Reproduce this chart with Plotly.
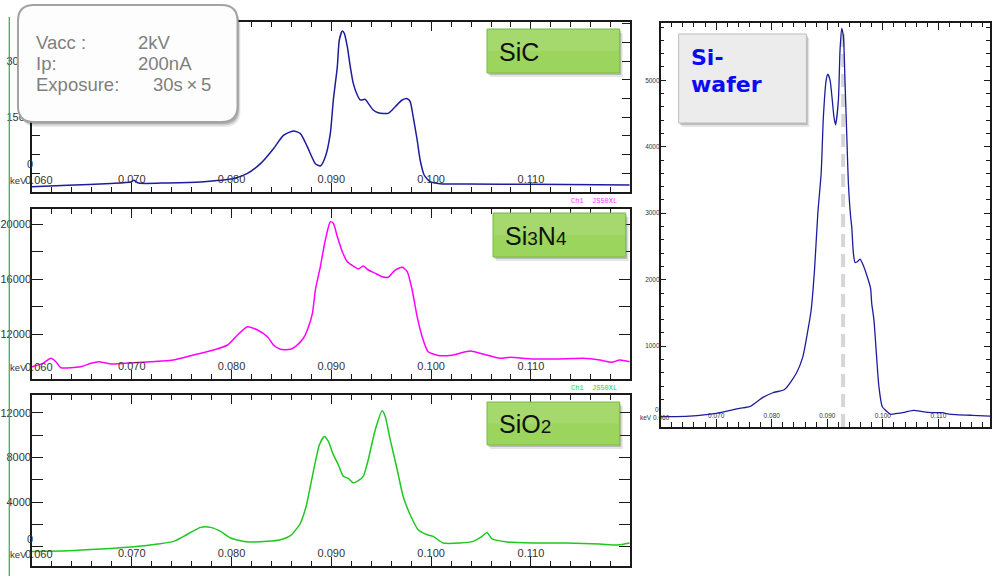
import plotly.graph_objects as go

W, H = 992, 576

# ---------------- data ----------------
sic_kev = [0.0600, 0.0636, 0.0679, 0.0699, 0.0702, 0.0707, 0.0736, 0.0769, 0.0802, 0.0816,
           0.0829, 0.0842, 0.0852, 0.0862, 0.0869, 0.0876, 0.0884, 0.0889, 0.0894, 0.0899,
           0.0902, 0.0906, 0.0908, 0.0911, 0.0913, 0.0916, 0.0919, 0.0922, 0.0926, 0.0929,
           0.0934, 0.0937, 0.0942, 0.0947, 0.0957, 0.0964, 0.0971, 0.0976, 0.0979, 0.0982,
           0.0986, 0.0989, 0.0993, 0.0999, 0.1009, 0.1036, 0.1102, 0.1199]
sic_counts = [-367, -330, -280, -240, -195, -270, -265, -240, -150, -10,
              250, 650, 1010, 1125, 1055, 700, 250, 188, 437, 1063,
              1955, 2847, 3563, 3804, 3742, 3384, 2847, 2401, 2088, 1955,
              1973, 1866, 1687, 1616, 1598, 1776, 1955, 1991, 1911, 1508,
              884, 348, -54, -233, -287, -295, -303, -322]

si3n4_kev = [0.0600, 0.0611, 0.0619, 0.0624, 0.0629, 0.0649, 0.0659, 0.0667, 0.0679, 0.0702,
             0.0719, 0.0742, 0.0762, 0.0782, 0.0796, 0.0806, 0.0816, 0.0826, 0.0836, 0.0842,
             0.0849, 0.0859, 0.0864, 0.0872, 0.0876, 0.0881, 0.0884, 0.0889, 0.0892, 0.0894,
             0.0899, 0.0902, 0.0906, 0.0911, 0.0916, 0.0922, 0.0927, 0.0932, 0.0937, 0.0944,
             0.0951, 0.0957, 0.0964, 0.0971, 0.0976, 0.0981, 0.0986, 0.0991, 0.0997, 0.1009,
             0.1022, 0.1039, 0.1052, 0.1069, 0.1079, 0.1102, 0.1136, 0.1152, 0.1169, 0.1181,
             0.1189, 0.1199]
si3n4_counts = [9644, 9890, 10255, 10007, 9571, 9644, 9890, 10007, 9840, 9935,
                10007, 10130, 10495, 10858, 11222, 11950, 12553, 12313, 11826, 11222,
                10910, 10910, 11100, 11710, 12313, 13500, 15220, 16917, 18130, 18860,
                20190, 20070, 19100, 18007, 17280, 16967, 16750, 16967, 16676, 16436,
                16189, 16145, 16676, 16873, 16553, 15220, 13280, 11825, 10735, 10445,
                10495, 10786, 10567, 10255, 10327, 10204, 10225, 10255, 10130, 9963,
                10130, 10007]

sio2_kev = [0.0600, 0.0636, 0.0669, 0.0702, 0.0726, 0.0742, 0.0752, 0.0761, 0.0769, 0.0779,
            0.0789, 0.0799, 0.0809, 0.0819, 0.0836, 0.0849, 0.0859, 0.0867, 0.0869, 0.0875,
            0.0881, 0.0888, 0.0893, 0.0897, 0.0902, 0.0907, 0.0912, 0.0917, 0.0922, 0.0927,
            0.0932, 0.0937, 0.0944, 0.0951, 0.0954, 0.0959, 0.0966, 0.0972, 0.0979, 0.0987,
            0.0996, 0.1002, 0.1012, 0.1029, 0.1042, 0.1051, 0.1056, 0.1061, 0.1076, 0.1102,
            0.1136, 0.1169, 0.1187, 0.1199]
sio2_counts = [-420, -360, -210, 0, 240, 480, 920, 1370, 1730, 1730,
               1370, 780, 540, 420, 480, 630, 985, 1820, 2100, 3700,
               6300, 9100, 9870, 9430, 8240, 7340, 6300, 6110, 5700, 5910,
               6300, 7790, 10470, 12170, 11660, 9580, 6890, 4500, 2860, 1520,
               1070, 920, 330, 330, 480, 920, 1280, 690, 420, 330,
               330, 240, 150, 330]

wafer_kev = [0.0600, 0.0652, 0.0700, 0.0742, 0.0760, 0.0784, 0.0802, 0.0823, 0.0844, 0.0856,
             0.0864, 0.0871, 0.0877, 0.0883, 0.0889, 0.0893, 0.0898, 0.0901, 0.0905, 0.0909,
             0.0912, 0.0915, 0.0920, 0.0923, 0.0926, 0.0929, 0.0932, 0.0935, 0.0938, 0.0942,
             0.0944, 0.0947, 0.0950, 0.0954, 0.0959, 0.0963, 0.0972, 0.0978, 0.0980, 0.0984,
             0.0988, 0.0993, 0.0999, 0.1008, 0.1014, 0.1026, 0.1041, 0.1056, 0.1071, 0.1089,
             0.1107, 0.1119, 0.1161, 0.1193]
wafer_counts = [-60, -50, -10, 65, 90, 230, 300, 350, 590, 840,
                1190, 1545, 2145, 3000, 3600, 4450, 5000, 5090, 5000, 4700,
                4450, 4330, 4700, 5460, 5780, 5660, 4960, 4200, 3450, 2950,
                2800, 2400, 2260, 2270, 2310, 2250, 2045, 1870, 1645, 1395,
                940, 390, 90, 15, -25, -10, 10, 35, 15, 0,
                0, -20, -40, -50]

# tick labels (the edge labels 0.060 and the y "0" are placed as text next to "keV")
left_xticks = [0.070, 0.080, 0.090, 0.100, 0.110]
wafer_xticks = [0.070, 0.080, 0.090, 0.100, 0.110]
edge_xtick_label = "0.060"
sic_yticks = [1500, 3000]
si3n4_yticks = [12000, 16000, 20000]
sio2_yticks = [4000, 8000, 12000]
wafer_yticks = [1000, 2000, 3000, 4000, 5000]
zero_label = "0"
wafer_marker_kev = 0.09285

info_labels = ["Vacc :", "Ip:", "Exposure:"]
info_values = ["2kV", "200nA", "30s\u2009×\u20095"]


def px(X):
    return X / W


def py(Y):
    return 1 - Y / H


NARROW = "Liberation Sans Narrow, Liberation Sans, Arial, sans-serif"
AX = "#1a1a1a"
TF = dict(family=NARROW, size=11, color="#333333")
TF_KEV = dict(family=NARROW, size=9.5, color="#333333")
TF_SMALL = dict(family=NARROW, size=6.5, color="#333333")

fig = go.Figure()
line_kw = dict(shape="spline", smoothing=0.6)
fig.add_trace(go.Scatter(x=sic_kev, y=sic_counts, mode="lines", xaxis="x", yaxis="y",
                         line=dict(color="#1c1c9e", width=1.5, **line_kw), showlegend=False))
fig.add_trace(go.Scatter(x=si3n4_kev, y=si3n4_counts, mode="lines", xaxis="x2", yaxis="y2",
                         line=dict(color="#ff00ff", width=1.5, **line_kw), showlegend=False))
fig.add_trace(go.Scatter(x=sio2_kev, y=sio2_counts, mode="lines", xaxis="x3", yaxis="y3",
                         line=dict(color="#1ec81e", width=1.5, **line_kw), showlegend=False))
fig.add_trace(go.Scatter(x=wafer_kev, y=wafer_counts, mode="lines", xaxis="x4", yaxis="y4",
                         line=dict(color="#1c1c9e", width=1.3, **line_kw), showlegend=False))


def left_x(anchor):
    return dict(domain=[px(31), px(630)], range=[0.060, 0.1199], anchor=anchor,
                showline=True, linecolor=AX, linewidth=1.5, mirror="ticks",
                ticks="inside", ticklen=9, tickwidth=1, tickcolor=AX,
                tickmode="array", tickvals=left_xticks,
                ticktext=[f"{v:.3f}" for v in left_xticks],
                ticklabelposition="inside", ticklabelstandoff=-3, tickfont=TF,
                minor=dict(tickmode="linear", tick0=0.06, dtick=0.002, ticks="inside",
                           ticklen=5, tickcolor=AX, tickwidth=1),
                showgrid=False, zeroline=False, fixedrange=True)


def left_y(anchor, dom, rng, vals, minor_dtick, minor_len):
    return dict(domain=dom, range=rng, anchor=anchor,
                showline=True, linecolor=AX, linewidth=1.5, mirror="ticks",
                ticks="inside", ticklen=5, tickwidth=1, tickcolor=AX,
                tickmode="array", tickvals=vals, ticktext=[str(v) for v in vals],
                tickfont=TF, ticklabelstandoff=-3,
                minor=dict(tickmode="linear", tick0=0, dtick=minor_dtick, ticks="inside",
                           ticklen=minor_len, tickcolor=AX, tickwidth=1),
                showgrid=False, zeroline=False, fixedrange=True)


fig.update_layout(
    width=W, height=H, margin=dict(l=0, r=0, t=0, b=0),
    paper_bgcolor="white", plot_bgcolor="white",
    xaxis=left_x("y"),
    yaxis=left_y("x", [py(192), py(22)], [-509, 4045], sic_yticks, 500, 8),
    xaxis2=left_x("y2"),
    yaxis2=left_y("x2", [py(379), py(209)], [8749, 21113], si3n4_yticks, 2000, 11),
    xaxis3=left_x("y3"),
    yaxis3=left_y("x3", [py(566), py(395)], [-1728, 13581], sio2_yticks, 2000, 11),
    xaxis4=dict(domain=[px(661), px(991)], range=[0.060, 0.1193], anchor="y4",
                showline=True, linecolor=AX, linewidth=1.5, mirror="ticks",
                ticks="inside", ticklen=8, tickwidth=1, tickcolor=AX,
                tickmode="array", tickvals=wafer_xticks,
                ticktext=[f"{v:.3f}" for v in wafer_xticks],
                ticklabelposition="inside", ticklabelstandoff=-2, tickfont=TF_SMALL,
                minor=dict(tickmode="linear", tick0=0.06, dtick=0.002, ticks="inside",
                           ticklen=5, tickcolor=AX, tickwidth=1),
                showgrid=False, zeroline=False, fixedrange=True),
    yaxis4=dict(domain=[py(427), py(22.7)], range=[-215, 5865], anchor="x4",
                showline=True, linecolor=AX, linewidth=1.5, mirror="ticks",
                ticks="inside", ticklen=6, tickwidth=1, tickcolor=AX,
                tickmode="array", tickvals=wafer_yticks,
                ticktext=[str(v) for v in wafer_yticks],
                tickfont=TF_SMALL, ticklabelstandoff=-2,
                minor=dict(tickmode="linear", tick0=0, dtick=200, ticks="inside",
                           ticklen=4, tickcolor=AX, tickwidth=1),
                showgrid=False, zeroline=False, fixedrange=True),
)

shapes = []
# green vertical rule at far left
shapes.append(dict(type="line", xref="paper", yref="paper", x0=px(8.3), x1=px(8.3),
                   y0=py(17), y1=0, line=dict(color="#22b04a", width=1.2), layer="above"))
# dashed marker line in the Si-wafer panel
shapes.append(dict(type="line", xref="x4", yref="y4", x0=wafer_marker_kev, x1=wafer_marker_kev,
                   y0=-215, y1=5725, line=dict(color="#d6d6d6", width=4, dash="13px,7px"),
                   layer="below"))


def P(X, Y):
    return f"{px(X):.5f},{py(Y):.5f}"


def rounded(x0, y0, x1, y1, r):
    return (f"M {P(x0 + r, y0)} L {P(x1 - r, y0)} Q {P(x1, y0)} {P(x1, y0 + r)} "
            f"L {P(x1, y1 - r)} Q {P(x1, y1)} {P(x1 - r, y1)} "
            f"L {P(x0 + r, y1)} Q {P(x0, y1)} {P(x0, y1 - r)} "
            f"L {P(x0, y0 + r)} Q {P(x0, y0)} {P(x0 + r, y0)} Z")


def rect(x0, y0, x1, y1, fill, line_color, lw=1):
    return dict(type="rect", xref="paper", yref="paper", x0=px(x0), x1=px(x1),
                y0=py(y1), y1=py(y0), fillcolor=fill,
                line=dict(color=line_color, width=lw), layer="above")


def shadowed_box(x0, y0, x1, y1, fill, border):
    out = []
    out.append(rect(x0 + 3, y0 + 4, x1 + 3, y1 + 4, "rgba(0,0,0,0.10)", "rgba(0,0,0,0)", 0))
    out.append(rect(x0 + 1.5, y0 + 2, x1 + 1.5, y1 + 2, "rgba(0,0,0,0.18)", "rgba(0,0,0,0)", 0))
    out.append(rect(x0, y0, x1, y1, fill, border, 1))
    return out


# info box (rounded) with soft shadow
for off, a in [(5, 0.08), (3.5, 0.12), (2, 0.16)]:
    shapes.append(dict(type="path", xref="paper", yref="paper",
                       path=rounded(17 + off * 0.6, 5 + off, 237 + off * 0.6, 122 + off, 16),
                       fillcolor=f"rgba(0,0,0,{a})", line=dict(width=0), layer="above"))
shapes.append(dict(type="path", xref="paper", yref="paper", path=rounded(17, 5, 237, 122, 16),
                   fillcolor="#fdfdfd", line=dict(color="#a3a3a3", width=2), layer="above"))

# green label boxes
GREEN = "#9bd55d"
GREEN_EDGE = "#7fba45"
shapes += shadowed_box(487, 29, 620, 73, GREEN, GREEN_EDGE)
shapes += shadowed_box(493, 213, 626, 257, GREEN, GREEN_EDGE)
shapes += shadowed_box(487, 402, 620, 445, GREEN, GREEN_EDGE)
for (x0, y0, x1, y1) in [(487, 29, 620, 73), (493, 213, 626, 257), (487, 402, 620, 445)]:
    shapes.append(rect(x0 + 1, y0 + 1, x1 - 1, (y0 + y1) / 2, "rgba(255,255,255,0.10)",
                       "rgba(0,0,0,0)", 0))
# Si-wafer grey box
shapes += shadowed_box(679, 34, 807, 123, "#ececec", "#bdbdbd")

fig.update_layout(shapes=shapes)

ann = []
INFO_FONT = dict(family="Liberation Sans, Arial, sans-serif", size=18.5, color="#7f7f7f")
for i, (lab, val) in enumerate(zip(info_labels, info_values)):
    yy = 42.7 + i * 20.7
    ann.append(dict(x=px(33), y=py(yy), text=lab, xanchor="left", yanchor="middle",
                    font=INFO_FONT))
    ann.append(dict(x=px(135 if i < 2 else 150), y=py(yy), text=val, xanchor="left",
                    yanchor="middle", font=INFO_FONT))

LBL = dict(family="Liberation Sans, Arial, sans-serif", size=25, color="#111111")
ann.append(dict(x=px(497), y=py(52), text="SiC", xanchor="left", yanchor="middle", font=LBL))
ann.append(dict(x=px(503), y=py(236), xanchor="left", yanchor="middle", font=LBL,
                text="Si<span style='font-size:19px'>3</span>N<span style='font-size:19px'>4</span>"))
ann.append(dict(x=px(497), y=py(424), xanchor="left", yanchor="middle", font=LBL,
                text="SiO<span style='font-size:19px'>2</span>"))

BLUE = dict(family="DejaVu Sans, Verdana, sans-serif", size=22, color="#0a0af5", weight="bold")
ann.append(dict(x=px(689), y=py(57), text="<b>Si-</b>", xanchor="left", yanchor="middle", font=BLUE))
ann.append(dict(x=px(689), y=py(85), text="<b>wafer</b>", xanchor="left", yanchor="middle", font=BLUE))

# "keV" unit tags, edge tick label 0.060 and the y zero labels
for yy in [180, 367, 554]:
    ann.append(dict(x=px(7), y=py(yy), text="keV", xanchor="left", yanchor="middle", font=TF_KEV))
    ann.append(dict(x=px(38), y=py(yy), text=edge_xtick_label, xanchor="center", yanchor="middle", font=TF))
for yy in [164, 539]:
    ann.append(dict(x=px(34), y=py(yy), text=zero_label, xanchor="right", yanchor="middle", font=TF))
ann.append(dict(x=px(654), y=py(417.5), text="keV", xanchor="right", yanchor="middle", font=TF_SMALL))
ann.append(dict(x=px(662), y=py(417.5), text=edge_xtick_label, xanchor="center", yanchor="middle", font=TF_SMALL))
ann.append(dict(x=px(661), y=py(409.5), text=zero_label, xanchor="right", yanchor="middle", font=TF_SMALL))

# detector tags
MONO = "Liberation Mono, DejaVu Sans Mono, monospace"
ann.append(dict(x=px(619), y=py(201), text="Ch1  JS50XL", xanchor="right", yanchor="middle",
                font=dict(family=MONO, size=7, color="#ff33ff")))
ann.append(dict(x=px(619), y=py(388), text="Ch1  JS50XL", xanchor="right", yanchor="middle",
                font=dict(family=MONO, size=7, color="#33cc33")))

for a in ann:
    a.update(xref="paper", yref="paper", showarrow=False)
fig.update_layout(annotations=ann)

fig.write_html("out.html", config={"displayModeBar": False},
               post_script="document.body.style.margin='0';")
